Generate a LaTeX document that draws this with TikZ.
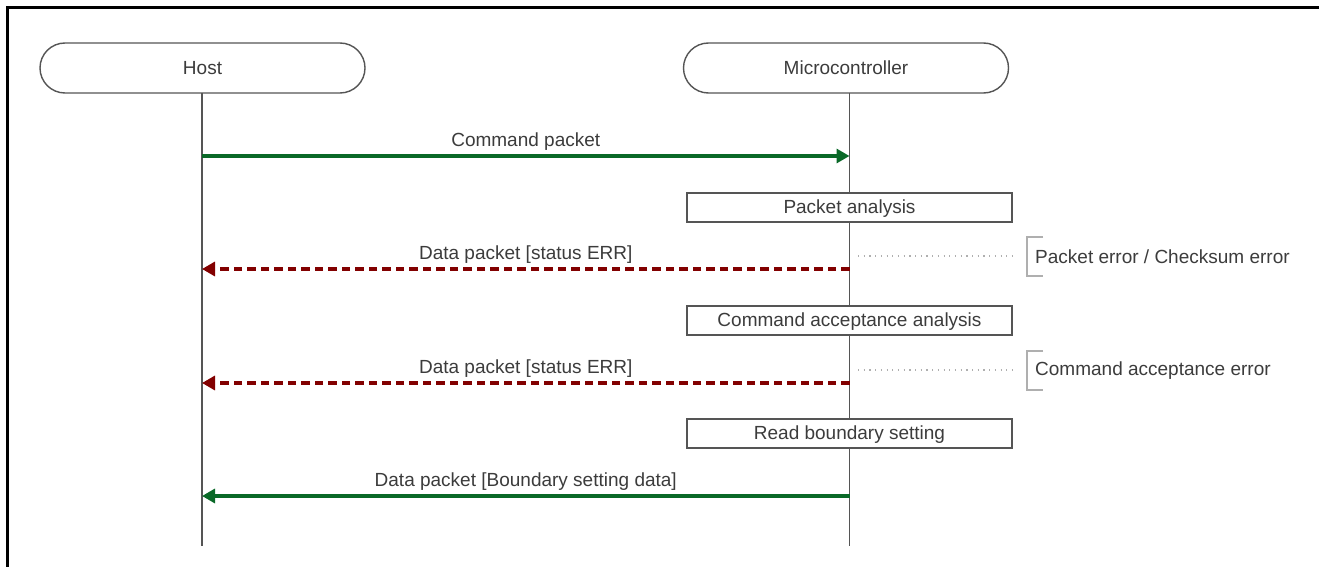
\documentclass[tikz,border=0pt]{standalone}
\usepackage{fontspec}
\setmainfont{Liberation Sans}
\usetikzlibrary{arrows.meta}
\definecolor{okgreen}{RGB}{10,105,40}
\definecolor{errred}{RGB}{130,0,0}
\definecolor{lifegray}{RGB}{85,85,85}
\definecolor{txtgray}{RGB}{60,60,60}
\definecolor{notegray}{RGB}{175,175,175}
\begin{document}
\begin{tikzpicture}[x=1pt,y=-1pt,
  every node/.style={font=\fontsize{19}{21}\selectfont, text=txtgray, inner sep=0pt},
  header/.style={draw=lifegray, line width=1.4pt, rounded corners=25pt, minimum width=325pt, minimum height=50pt},
  lifeline/.style={draw=lifegray, line width=1.4pt},
  actbox/.style={draw=lifegray, line width=1.8pt, minimum width=325pt, minimum height=29pt, text depth=1pt},
  okmsg/.style={draw=okgreen, line width=3.2pt, -{Triangle[length=13pt,width=14pt]}},
  errmsg/.style={draw=errred, line width=3.2pt, dash pattern=on 8.5pt off 5pt, -{Triangle[length=13pt,width=14pt]}},
  msglabel/.style={anchor=south, yshift=3.5pt},
  guide/.style={draw=notegray, line width=1.2pt, dash pattern=on 1.2pt off 4.5pt},
  brace/.style={draw=notegray, line width=1.3pt},
  note/.style={anchor=west}
]
\useasboundingbox (0,0) rectangle (1319,567);
\fill[white] (0,0) rectangle (1319,567);
% frame
\draw[black, line width=3.5pt] (7.5,567) -- (7.5,7.5) -- (1319,7.5);

% headers
\node[header] (host) at (202.5,68) {Host};
\node[header] (mcu) at (846,68) {Microcontroller};

% lifelines
\coordinate (hTop) at (202,93);
\coordinate (hBot) at (202,546);
\coordinate (mTop) at (849.5,93);
\coordinate (mBot) at (849.5,546);
\draw[lifeline] (hTop) -- (hBot);
\draw[lifeline] (mTop) -- (mBot);

% message 1
\coordinate (h1) at (202,156);
\coordinate (m1) at (849.5,156);
\draw[okmsg] (h1) -- node[msglabel] (l1) {Command packet} (m1);

% activity 1
\node[actbox, fill=white] (pa) at (849.5,207.5) {Packet analysis};

% message 2
\coordinate (h2) at (202,269);
\coordinate (m2) at (849.5,269);
\draw[errmsg] (m2) -- node[msglabel] (l2) {Data packet [status ERR]} (h2);
\coordinate (g2a) at (858,256);
\coordinate (g2b) at (1016,256);
\draw[guide] (g2a) -- (g2b);
\coordinate (b2) at (1027,237);
\draw[brace] (1043,237) -- (b2) -- (1027,276) -- (1043,276);
\node[note] (n2) at (1035,257) {Packet error / Checksum error};

% activity 2
\node[actbox, fill=white] (caa) at (849.5,320.5) {Command acceptance analysis};

% message 3
\coordinate (h3) at (202,383);
\coordinate (m3) at (849.5,383);
\draw[errmsg] (m3) -- node[msglabel] (l3) {Data packet [status ERR]} (h3);
\coordinate (g3a) at (858,370);
\coordinate (g3b) at (1016,370);
\draw[guide] (g3a) -- (g3b);
\coordinate (b3) at (1027,351);
\draw[brace] (1043,351) -- (b3) -- (1027,390) -- (1043,390);
\node[note] (n3) at (1035,371) {Command acceptance error};

% activity 3
\node[actbox, fill=white] (rbs) at (849.5,433.5) {Read boundary setting};

% message 4
\coordinate (h4) at (202,496);
\coordinate (m4) at (849.5,496);
\draw[okmsg] (m4) -- node[msglabel] (l4) {Data packet [Boundary setting data]} (h4);
\end{tikzpicture}
\end{document}
